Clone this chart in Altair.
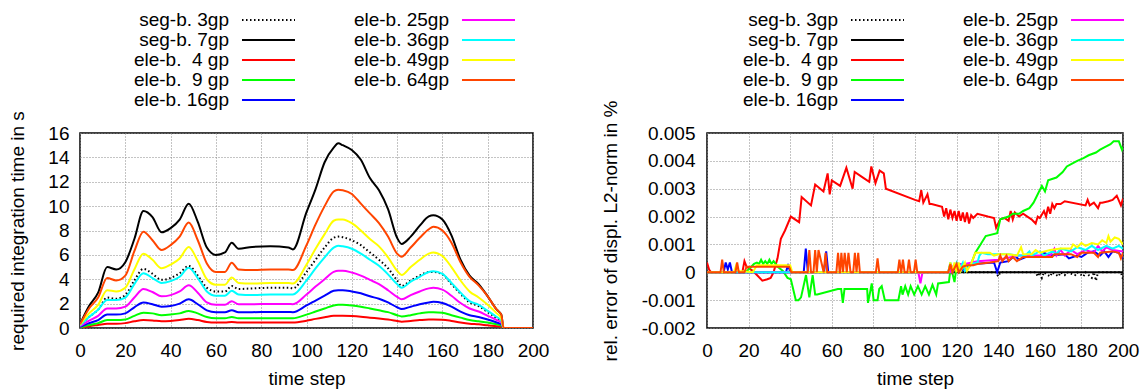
import altair as alt
import pandas as pd

FONT = "Liberation Sans"
FS = 19

# ---------------- series definitions ----------------
SERIES = ["seg-b. 3gp", "seg-b. 7gp", "ele-b.\u00a0 4 gp", "ele-b.\u00a0 9 gp", "ele-b. 16gp",
          "ele-b. 25gp", "ele-b. 36gp", "ele-b. 49gp", "ele-b. 64gp"]
COLORS = ["#000000", "#000000", "#ff0000", "#00ff00", "#0000ff",
          "#ff00ff", "#00ffff", "#ffff00", "#ff4500"]
DOTTED = [True, False, False, False, False, False, False, False, False]

# ---------------- left panel: required integration time in s ----------------
T_TIME = [0, 4, 8, 12, 16, 20, 24, 28, 32, 36, 40, 44, 48, 52, 56, 60, 64, 67, 70, 76,
          84, 92, 94, 100, 104, 108, 112, 114, 116, 120, 124, 128, 132, 136, 140, 142, 146, 150, 154, 156,
          160, 164, 168, 172, 176, 180, 184, 186, 187, 190, 200]

time_seg3 = [0.2, 0.9, 1.5, 2.5, 2.4, 2.7, 3.9, 4.85, 4.45, 3.95, 4.1, 4.5, 5.1, 4.3, 3.3, 3.0, 3.0, 3.45, 3.2, 3.25,
             3.3, 3.3, 3.25, 4.6, 5.6, 6.6, 7.4, 7.5, 7.45, 7.2, 6.8, 6.2, 5.6, 4.9, 3.9, 3.45, 3.9, 4.3, 4.6, 4.6,
             4.4, 3.6, 2.8, 2.1, 1.8, 1.3, 0.8, 0.5, 0.0, 0.0, 0.0]
time_seg7 = [0.3, 1.8, 2.9, 5.0, 4.8, 5.4, 7.3, 9.6, 9.1, 7.85, 8.2, 8.9, 10.2, 8.7, 6.6, 6.0, 6.2, 7.0, 6.5, 6.65,
             6.7, 6.6, 6.45, 9.5, 11.4, 13.6, 14.8, 15.15, 15.0, 14.6, 13.8, 12.3, 11.3, 9.75, 7.4, 6.9, 7.5, 8.4, 9.15, 9.25,
             8.9, 7.6, 5.6, 4.3, 3.6, 2.6, 1.5, 1.1, 0.0, 0.0, 0.0]
time_e4 = [0.03, 0.15, 0.25, 0.35, 0.35, 0.4, 0.55, 0.65, 0.62, 0.55, 0.58, 0.65, 0.75, 0.65, 0.5, 0.45, 0.45, 0.5, 0.45, 0.45,
           0.45, 0.45, 0.45, 0.6, 0.75, 0.88, 1.0, 1.0, 1.0, 0.98, 0.93, 0.85, 0.78, 0.7, 0.58, 0.52, 0.58, 0.65, 0.7, 0.7,
           0.68, 0.58, 0.45, 0.35, 0.3, 0.22, 0.15, 0.1, 0.0, 0.0, 0.0]
time_e9 = [0.05, 0.25, 0.4, 0.65, 0.65, 0.7, 1.0, 1.25, 1.2, 1.05, 1.1, 1.2, 1.4, 1.2, 0.9, 0.8, 0.8, 0.9, 0.8, 0.8,
           0.8, 0.8, 0.8, 1.1, 1.35, 1.6, 1.85, 1.9, 1.9, 1.85, 1.75, 1.6, 1.45, 1.3, 1.05, 0.95, 1.05, 1.2, 1.3, 1.3,
           1.25, 1.05, 0.85, 0.65, 0.55, 0.45, 0.3, 0.2, 0.0, 0.0, 0.0]
time_e16 = [0.1, 0.4, 0.65, 1.1, 1.1, 1.2, 1.7, 2.1, 1.95, 1.75, 1.8, 2.0, 2.35, 1.95, 1.45, 1.3, 1.3, 1.45, 1.3, 1.3,
            1.32, 1.32, 1.3, 1.85, 2.25, 2.65, 3.05, 3.1, 3.1, 3.0, 2.85, 2.6, 2.4, 2.1, 1.7, 1.55, 1.75, 1.95, 2.1, 2.15,
            2.05, 1.75, 1.35, 1.05, 0.9, 0.7, 0.45, 0.3, 0.0, 0.0, 0.0]
time_e25 = [0.15, 0.6, 1.0, 1.6, 1.6, 1.75, 2.5, 3.2, 2.95, 2.6, 2.7, 3.0, 3.5, 2.9, 2.1, 1.9, 1.9, 2.2, 1.95, 1.95,
            1.97, 1.97, 1.95, 2.75, 3.4, 4.0, 4.6, 4.7, 4.7, 4.55, 4.3, 3.95, 3.6, 3.1, 2.55, 2.35, 2.7, 3.0, 3.25, 3.3,
            3.15, 2.65, 2.05, 1.6, 1.35, 1.0, 0.65, 0.45, 0.0, 0.0, 0.0]
time_e36 = [0.2, 0.9, 1.5, 2.3, 2.3, 2.5, 3.6, 4.5, 4.1, 3.7, 3.85, 4.2, 4.95, 4.1, 3.0, 2.65, 2.65, 3.05, 2.75, 2.7,
            2.75, 2.75, 2.75, 3.9, 4.9, 5.8, 6.6, 6.75, 6.7, 6.5, 6.1, 5.6, 5.1, 4.4, 3.6, 3.3, 3.8, 4.2, 4.6, 4.65,
            4.45, 3.7, 2.9, 2.2, 1.9, 1.4, 0.9, 0.6, 0.0, 0.0, 0.0]
time_e49 = [0.25, 1.2, 1.9, 3.1, 3.0, 3.3, 4.8, 6.1, 5.6, 4.9, 5.2, 5.7, 6.65, 5.5, 4.0, 3.55, 3.55, 4.15, 3.7, 3.65,
            3.7, 3.7, 3.65, 5.2, 6.5, 7.7, 8.8, 8.9, 8.9, 8.6, 8.0, 7.3, 6.7, 5.8, 4.7, 4.35, 5.0, 5.6, 6.1, 6.2,
            5.9, 5.0, 3.9, 3.0, 2.5, 1.9, 1.2, 0.8, 0.0, 0.0, 0.0]
time_e64 = [0.3, 1.6, 2.5, 4.1, 3.9, 4.3, 6.3, 7.9, 7.2, 6.4, 6.8, 7.5, 8.65, 7.2, 5.3, 4.6, 4.6, 5.35, 4.8, 4.75,
            4.8, 4.8, 4.75, 6.8, 8.5, 10.0, 11.2, 11.35, 11.3, 11.0, 10.2, 9.4, 8.6, 7.5, 6.1, 5.85, 6.6, 7.4, 8.1, 8.3,
            8.0, 7.0, 5.4, 4.2, 3.5, 2.6, 1.5, 1.1, 0.0, 0.0, 0.0]
TIME_VALUES = [time_seg3, time_seg7, time_e4, time_e9, time_e16, time_e25, time_e36, time_e49, time_e64]

# ---------------- right panel: rel. error of displ. L2-norm in % (values in 1e-3) ----------------
err_seg3_t = [0, 139, 140, 141, 158, 159, 160, 161, 162, 165, 166, 169, 170, 172, 173, 177, 178, 181, 182, 185, 186, 187, 188, 199, 200]
err_seg3_v = [0, 0, -0.15, 0, 0, -0.15, 0, -0.2, 0, -0.15, 0, -0.15, 0, -0.1, 0, -0.1, 0, -0.15, 0, -0.2, 0, -0.3, 0, 0, -0.25]
err_seg7_t = [0, 200]
err_seg7_v = [0, 0]
err_e4_t = [0, 1, 2, 17, 18, 19, 20, 22, 24, 26.6, 29, 30.6, 32, 33.9, 35.5, 37.5, 40.3, 44.3, 45.5, 50, 52, 56, 58, 59,
            60, 64, 67, 70, 71, 75, 78, 79, 81, 83, 85, 86, 100, 102, 103, 104, 106, 107, 108, 113, 114, 115, 116, 117,
            118, 119, 120, 121, 122, 123, 124, 125, 126, 127, 128, 130, 135, 138, 139, 140, 141, 143, 145, 146, 147, 148,
            150, 152, 154, 156, 158, 159, 160, 162, 163, 164, 165, 166, 167, 168, 170, 172, 182, 183, 184, 186, 188, 189,
            190, 193, 195, 197, 199, 200]
err_e4_v = [0.35, 0.1, 0, 0, 0.4, 0.2, 0.15, 0.05, -0.1, -0.3, -0.25, -0.2, 0.0, 0.5, 1.2, 1.5, 2.0, 1.8, 2.7, 2.4, 3.15,
            2.9, 3.55, 2.8, 3.3, 3.1, 3.75, 3.0, 3.6, 3.4, 3.25, 3.8, 3.2, 3.65, 3.55, 3.0, 2.6, 2.55, 2.95, 2.5, 2.8,
            2.45, 2.45, 2.35, 2.0, 2.3, 1.9, 2.25, 1.95, 2.2, 1.85, 2.2, 1.85, 2.15, 1.8, 2.15, 1.75, 2.05, 1.95, 2.1,
            2.0, 1.95, 1.6, 1.75, 1.9, 1.95, 1.85, 2.2, 1.9, 2.15, 2.0, 2.1, 2.0, 1.9, 1.75, 2.0, 1.95, 2.2, 2.0, 2.35,
            2.1, 2.45, 2.3, 2.45, 2.45, 2.55, 2.4, 2.6, 2.4, 2.5, 2.3, 2.5, 2.5, 2.55, 2.6, 2.75, 2.4, 2.65]
err_e9_t = [0, 18, 20, 22.6, 24, 25, 26, 27, 28, 29, 30, 31, 32, 34, 36.5, 38.7, 40.3, 42.7, 44, 45.2, 47.6, 48.4, 49.2,
            50.8, 52, 53, 62.9, 64.5, 65.3, 66.1, 77, 77.4, 78.2, 79.2, 80.1, 82, 82.8, 84, 85.5, 92, 93.3, 94, 95.3,
            96.7, 97.9, 99.6, 101.4, 103.2, 104.9, 106.7, 108.4, 110.2, 111.1, 116.3, 117.2, 119, 119.9, 121.3, 127,
            129, 131.5, 134, 139.5, 141, 145, 147, 150, 152, 155, 157, 159, 161, 162.5, 164, 168, 171, 173, 175.5, 178,
            181, 183.5, 187, 189, 191.5, 194, 195.5, 198, 199.5, 200]
err_e9_v = [0, 0, 0.1, 0.3, 0.35, 0.3, 0.45, 0.3, 0.4, 0.3, 0.45, 0.3, 0.4, 0.2, 0.05, -0.2, -0.25, -1.0, -1.0, -0.9,
            -0.1, -0.5, -0.9, -0.1, -0.8, -0.8, -0.6, -0.6, -1.1, -0.6, -0.6, -1.1, -0.8, -0.4, -1.0, -1.0, -0.6,
            -0.5, -1.0, -1.0, -0.5, -0.8, -0.5, -0.8, -0.5, -0.8, -0.5, -0.8, -0.5, -0.8, -0.45, -0.8, -0.4, -0.35,
            0.2, -0.35, 0.2, 0, 0.3, 0.7, 1.0, 1.3, 1.4, 1.9, 2.0, 2.1, 2.1, 2.2, 2.3, 2.5, 2.8, 3.1, 2.9, 3.3, 3.4,
            3.6, 3.8, 3.9, 4.0, 4.1, 4.2, 4.3, 4.4, 4.5, 4.6, 4.7, 4.7, 4.4, 4.5]
err_e16_t = [0, 8, 9, 10, 11, 12, 38, 39, 40, 46.5, 47.5, 48.5, 56.3, 57.3, 58.3, 116, 117, 118, 120, 121, 128, 138,
             139.5, 141, 145, 148, 150, 155, 160, 162, 165, 172, 174, 178, 180, 183, 186, 189, 191, 193, 195, 198, 200]
err_e16_v = [0, 0, 0.35, 0.1, 0.35, 0, 0, 0.3, 0, 0, 0.85, 0, 0, 0.75, 0, 0, 0.3, 0, 0.3, 0, 0.3, 0.35, 0.0, 0.35, 0.4,
             0.6, 0.45, 0.6, 0.55, 0.7, 0.6, 0.65, 0.5, 0.6, 0.55, 0.7, 0.75, 0.6, 0.75, 0.55, 0.75, 0.7, 0.5]
err_e25_t = [0, 101.6, 102.6, 103.6, 117, 118, 120, 124, 130, 140, 150, 160, 165, 167, 168, 170, 172, 175, 178, 182, 186,
             188, 190, 192, 195, 200]
err_e25_v = [0, 0, -0.4, 0, 0, 0.2, 0.3, 0.3, 0.4, 0.45, 0.6, 0.6, 0.6, 0.85, 0.6, 0.8, 0.6, 0.8, 0.65, 0.8, 0.7, 0.95,
             0.75, 0.9, 0.8, 0.75]
err_e36_t = [0, 116, 117, 118, 120, 121, 123, 124, 127, 130, 131, 132, 135, 140, 145, 150, 153, 155, 156, 160, 162, 166,
             168, 170, 175, 178, 182, 185, 188, 192, 195, 198, 200]
err_e36_v = [0, 0, 0.35, 0.05, 0.35, 0.05, 0.35, 0.05, 0.3, 0.35, 0.6, 0.7, 0.65, 0.65, 0.65, 0.6, 0.6, 0.75, 0.6, 0.75,
             0.6, 0.75, 0.65, 0.85, 0.75, 0.9, 0.8, 0.95, 0.8, 0.95, 0.85, 0.95, 0.85]
err_e49_t = [0, 13, 14, 15, 22, 24, 40, 41, 116, 117, 118, 119, 120, 121, 122, 124, 125, 127, 129, 136, 138, 140, 145,
             149, 151, 152, 156, 158, 160, 165, 170, 175, 176, 178, 180, 182, 185, 188, 190, 192, 193, 194, 196, 198, 200]
err_e49_v = [0, 0, 0.25, 0.05, 0, 0.25, 0.25, 0, 0, 0.35, 0, 0.35, 0, 0.35, 0.05, 0.35, 0.05, 0.3, 0.7, 0.7, 0.6, 0.65,
             0.65, 0.6, 0.9, 0.65, 0.65, 0.8, 0.7, 0.8, 0.85, 0.85, 1.0, 0.9, 1.05, 0.95, 1.05, 1.0, 1.15, 1.05, 1.3,
             1.1, 1.25, 1.2, 1.0]
err_e64_t = [0, 6.5, 7.3, 8.1, 13.7, 14.5, 15.3, 18, 19, 22.6, 39.5, 40.5, 48.4, 49.2, 50, 51.2, 52, 52.8, 53.6, 56.1,
             57, 57.8, 62.2, 63, 63.8, 64, 64.6, 65.4, 66.2, 67.2, 68, 69, 70.3, 71.1, 71.9, 72.7, 73.5, 81.2, 82, 82.8,
             91.7, 92.5, 93.3, 93.4, 94.2, 95, 96.3, 97.1, 97.9, 99.5, 100.3, 101.1, 116, 117, 118, 120, 121, 123, 125,
             128, 130, 136, 140, 141, 142, 144, 145, 147, 149, 152, 156, 160, 166, 167, 170, 175, 178, 180, 186, 188,
             189, 195, 198, 199, 200]
err_e64_v = [0, 0, 0.45, 0, 0, 0.35, 0, 0, 0.2, 0.2, 0.2, 0, 0, 0.8, 0, 0, 0.8, 0, 0.8, 0, 0.7, 0, 0, 0.7, 0, 0, 0.7, 0,
             0.7, 0, 0.7, 0, 0, 0.7, 0, 0.7, 0, 0, 0.5, 0, 0, 0.45, 0, 0, 0.45, 0, 0, 0.45, 0, 0, 0.45, 0, 0, 0.3, 0,
             0.3, 0, 0.2, 0.25, 0.25, 0.3, 0.35, 0.4, 0.6, 0.4, 0.6, 0.4, 0.55, 0.4, 0.55, 0.55, 0.55, 0.55, 0.65, 0.65,
             0.65, 0.55, 0.7, 0.7, 0.55, 0.7, 0.75, 0.7, 0.5, 0.7]
ERR_T = [err_seg3_t, err_seg7_t, err_e4_t, err_e9_t, err_e16_t, err_e25_t, err_e36_t, err_e49_t, err_e64_t]
ERR_V = [err_seg3_v, err_seg7_v, err_e4_v, err_e9_v, err_e16_v, err_e25_v, err_e36_v, err_e49_v, err_e64_v]

TIME_TICKS = [0, 20, 40, 60, 80, 100, 120, 140, 160, 180, 200]
LEFT_Y_TICKS = [0, 2, 4, 6, 8, 10, 12, 14, 16]
RIGHT_Y_TICKS = [-0.002, -0.001, 0, 0.001, 0.002, 0.003, 0.004, 0.005]

# ---------------- layout constants (pixels) ----------------
PLOT_W_L, PLOT_W_R, PLOT_H = 453, 416, 195
# legend column text right edges, relative to the plot area's left edge
LEG_TEXT_END_L = [149, 369]
LEG_TEXT_END_R = [131, 351]
LEG_GAP, LEG_LEN = 13, 53
LEG_ROW_Y = [-113, -33]   # first / last legend row, relative to plot top

xaxis = alt.Axis(values=TIME_TICKS, title="time step", labelPadding=13, titlePadding=9)


def legend_layer(text_ends, width):
    rows = []
    for i, name in enumerate(SERIES):
        c = 0 if i < 5 else 1
        r = i if i < 5 else i - 5
        end = text_ends[c]
        rows.append({"label": name, "row": r, "tx": end, "x0": end + LEG_GAP, "x1": end + LEG_GAP + LEG_LEN})
    df = pd.DataFrame(rows)
    lx = alt.Scale(domain=[0, width], range=[0, width], nice=False, zero=False)
    ly = alt.Scale(domain=[0, 4], range=LEG_ROW_Y, nice=False, zero=False)
    txt = alt.Chart(df).mark_text(align="right", baseline="middle", font=FONT, fontSize=FS, color="black").encode(
        x=alt.X("tx:Q", scale=lx, axis=None), y=alt.Y("row:Q", scale=ly, axis=None), text="label:N")
    ln = alt.Chart(df).mark_rule(strokeWidth=2).encode(
        x=alt.X("x0:Q", scale=lx, axis=None), x2="x1:Q", y=alt.Y("row:Q", scale=ly, axis=None),
        color=alt.Color("label:N", scale=alt.Scale(domain=SERIES, range=COLORS), legend=None),
        strokeDash=alt.StrokeDash("label:N", scale=alt.Scale(domain=SERIES, range=[[1.5, 2.5]] + [[1, 0]] * 8),
                                  legend=None))
    return alt.layer(ln, txt)


def panel(tlists, vlists, scale_factor, ydomain, yticks, ytitle, interp, width, text_ends,
          lab_pad, title_pad, label_expr=None):
    layers = []
    yax = dict(values=yticks, title=ytitle, labelPadding=lab_pad, titlePadding=title_pad)
    if label_expr:
        yax["labelExpr"] = label_expr
    for name, col, dotted, ts, vs in zip(SERIES, COLORS, DOTTED, tlists, vlists):
        df = pd.DataFrame({"t": ts, "v": [v * scale_factor for v in vs]})
        kw = dict(color=col, strokeWidth=2, interpolate=interp, clip=True)
        if dotted:
            kw["strokeDash"] = [1.5, 2.5]
        layers.append(
            alt.Chart(df).mark_line(**kw).encode(
                x=alt.X("t:Q", scale=alt.Scale(domain=[0, 200], nice=False), axis=xaxis),
                y=alt.Y("v:Q", scale=alt.Scale(domain=ydomain, nice=False, zero=False), axis=alt.Axis(**yax)),
            )
        )
    lines = alt.layer(*layers)
    return alt.layer(lines, legend_layer(text_ends, width)).resolve_scale(
        x="independent", y="independent").properties(width=width, height=PLOT_H)


left = panel([T_TIME] * 9, TIME_VALUES, 1.0, [0, 16], LEFT_Y_TICKS,
             "required integration time in s", "monotone", PLOT_W_L, LEG_TEXT_END_L, 11, 20)
right = panel(ERR_T, ERR_V, 0.001, [-0.002, 0.005], RIGHT_Y_TICKS,
              "rel. error of displ. L2-norm in %", "linear", PLOT_W_R, LEG_TEXT_END_R, 12, 21,
              label_expr="abs(datum.value) < 1e-9 ? '0' : replace(format(datum.value, '.3f'), '\u2212', '-')")

chart = alt.hconcat(left, right, spacing=50).properties(
    padding={"left": 8, "top": 10, "right": 0, "bottom": 0}, background="white"
).configure_view(stroke="black", strokeWidth=1.5).configure_axis(
    domain=False, ticks=False, grid=True, gridColor="#888888", gridDash=[1, 2], gridWidth=1,
    labelFont=FONT, labelFontSize=FS, labelColor="black", titleFont=FONT, titleFontSize=FS,
    titleFontWeight="normal", titleColor="black", labelFlush=False, labelOverlap=False
)

chart.save("out.html", embed_options={"renderer": "svg", "actions": False})
